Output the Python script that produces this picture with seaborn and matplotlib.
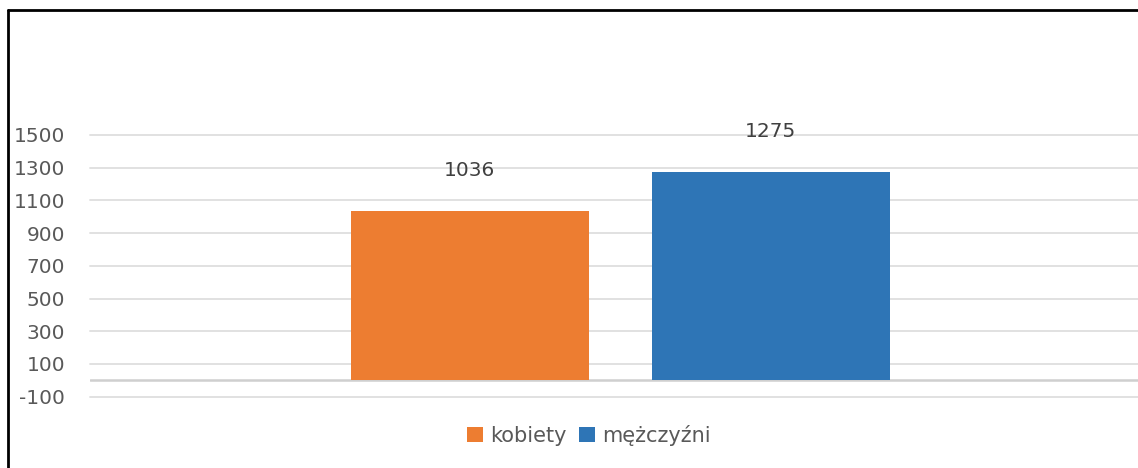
import matplotlib
matplotlib.use("Agg")
import matplotlib.pyplot as plt
from matplotlib.lines import Line2D
from matplotlib.patches import Patch
import seaborn as sns
import pandas as pd

# Data
categories = ["kobiety", "mężczyźni"]
values = [1036, 1275]
colors = ["#ED7D31", "#2E75B6"]
y_ticks = [-100, 100, 300, 500, 700, 900, 1100, 1300, 1500]

df = pd.DataFrame({"grupa": [""] * len(categories), "plec": categories, "liczba": values})

sns.set_theme(style="white")
plt.rcParams["font.family"] = ["DejaVu Sans"]

W, H = 1138, 468
fig = plt.figure(figsize=(W / 100, H / 100), dpi=100)
ax = fig.add_axes([90 / W, 1 - 396.7 / H, (W - 90) / W, (396.7 - 135) / H])

sns.barplot(data=df, x="grupa", y="liczba", hue="plec", hue_order=categories,
            palette=colors, width=0.8, gap=0.21, saturation=1, legend=False, ax=ax,
            linewidth=0, edgecolor="none", zorder=3)

ax.set_xlim(-0.705, 0.688)
ax.set_ylim(-100, 1500)
ax.set_yticks(y_ticks)
ax.set_yticklabels([str(t) for t in y_ticks])
ax.yaxis.grid(True, color="#dedede", linewidth=1.3, zorder=0)
ax.set_axisbelow(True)
for gl in ax.get_ygridlines():
    gl.set_clip_on(False)
ax.axhline(0, color="#cfcfcf", linewidth=1.8, zorder=2)
for s in ax.spines.values():
    s.set_visible(False)
ax.tick_params(axis="y", length=0, pad=18, labelsize=14.5, labelcolor="#595959")
ax.tick_params(axis="x", length=0, labelbottom=False)
ax.set_xlabel("")
ax.set_ylabel("")

# Value labels above bars
for cont in ax.containers:
    for bar, val in zip(cont, cont.datavalues):
        ax.annotate(f"{int(val)}", (bar.get_x() + bar.get_width() / 2, bar.get_height()),
                    xytext=(0, 29), textcoords="offset points", ha="center", va="center",
                    fontsize=14.5, color="#404040", annotation_clip=False)

handles = [Patch(facecolor=c, edgecolor="none") for c in colors]
fig.legend(handles, categories, loc="center", bbox_to_anchor=(589 / W, 1 - 435 / H),
           ncol=2, frameon=False, fontsize=15, labelcolor="#595959",
           handlelength=0.75, handleheight=0.75, handletextpad=0.35, columnspacing=0.6)

# Chart frame (left and top edges)
fig.add_artist(Line2D([7.5 / W, 7.5 / W], [0, 1 - 10 / H], transform=fig.transFigure,
                      color="black", linewidth=2))
fig.add_artist(Line2D([7.5 / W, 1], [1 - 10 / H, 1 - 10 / H], transform=fig.transFigure,
                      color="black", linewidth=2))

fig.savefig("out.png", dpi=100)
